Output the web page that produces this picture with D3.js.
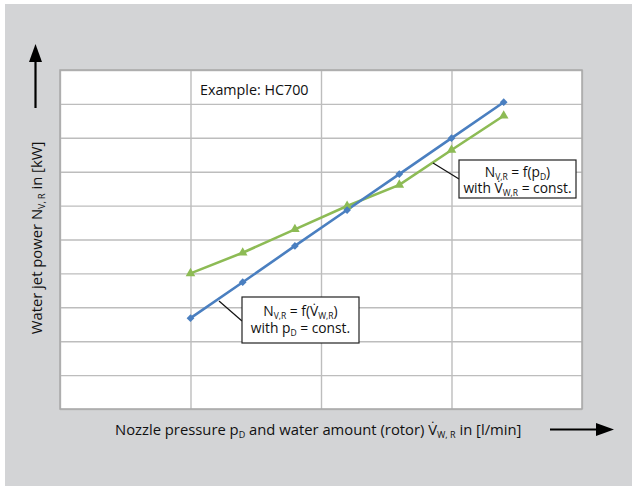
<!DOCTYPE html>
<html>
<head>
<meta charset="utf-8">
<script src="https://cdn.jsdelivr.net/npm/d3@7"></script>
<style>
  body { margin: 0; background: #fff; }
  svg text { font-family: "Open Sans", "Noto Sans", sans-serif; fill: #111; }
</style>
</head>
<body>
<script>
// x positions of the measuring points (in grid units, 5 units per grid column)
var flowSteps = [5, 7, 9, 11, 13, 15, 17];
// water jet power with p_D = const., varying water amount (blue)
var powerVsFlow = [2.68, 3.74, 4.81, 5.87, 6.93, 7.99, 9.05];
// water jet power with V_W,R = const., varying nozzle pressure (green)
var powerVsPressure = [4.0, 4.61, 5.30, 5.99, 6.61, 7.64, 8.65];

var xTicks = [0, 5, 10, 15, 20];
var yTicks = [0, 1, 2, 3, 4, 5, 6, 7, 8, 9, 10];

var svgWidth = 632, svgHeight = 486;

// plot area edges
var plot = { left: 60, top: 70, right: 582, bottom: 409 };

var svg = d3.select("body")
  .append("svg")
  .attr("width", svgWidth)
  .attr("height", svgHeight);

// grey panel
svg.append("rect")
  .attr("x", 5).attr("y", 4)
  .attr("width", svgWidth - 5).attr("height", svgHeight - 4)
  .attr("fill", "#d3d4d6");

var xScale = d3.scaleLinear().domain([0, 20]).range([plot.left, plot.right]);
var yScale = d3.scaleLinear().domain([0, 10]).range([plot.bottom, plot.top]);

svg.append("rect")
  .attr("x", plot.left).attr("y", plot.top)
  .attr("width", plot.right - plot.left).attr("height", plot.bottom - plot.top)
  .attr("fill", "#fff");

// grid lines (axes with no labels)
svg.append("g")
  .attr("transform", `translate(0, ${plot.bottom})`)
  .call(d3.axisBottom(xScale).tickValues(xTicks).tickSize(-(plot.bottom - plot.top)).tickFormat(""));
svg.append("g")
  .attr("transform", `translate(${plot.left}, 0)`)
  .call(d3.axisLeft(yScale).tickValues(yTicks).tickSize(-(plot.right - plot.left)).tickFormat(""));
svg.selectAll(".domain").remove();
svg.selectAll(".tick line").attr("stroke", "#bdbdbd").attr("stroke-width", 1.4);

// plot border
svg.append("rect")
  .attr("x", plot.left).attr("y", plot.top)
  .attr("width", plot.right - plot.left).attr("height", plot.bottom - plot.top)
  .attr("fill", "none").attr("stroke", "#a9a9a9").attr("stroke-width", 1.5);

svg.append("text")
  .attr("x", 200).attr("y", 95)
  .attr("font-size", 14.3)
  .text("Example: HC700");

// lines
var blue = "#4a7fc0", green = "#8dbb55";
var line = d3.line().x(d => xScale(d[0])).y(d => yScale(d[1]));

var blueData = flowSteps.map((x, i) => [x, powerVsFlow[i]]);
var greenData = flowSteps.map((x, i) => [x, powerVsPressure[i]]);

svg.append("path").datum(greenData)
  .attr("d", line).attr("fill", "none").attr("stroke", green).attr("stroke-width", 2.6);
svg.append("path").datum(blueData)
  .attr("d", line).attr("fill", "none").attr("stroke", blue).attr("stroke-width", 2.6);

svg.selectAll(".tri")
  .data(greenData)
  .enter()
  .append("path")
  .classed("tri", true)
  .attr("d", d3.symbol().type(d3.symbolTriangle).size(40))
  .attr("transform", d => `translate(${xScale(d[0])}, ${yScale(d[1])})`)
  .attr("fill", green);

svg.selectAll(".dia")
  .data(blueData)
  .enter()
  .append("path")
  .classed("dia", true)
  .attr("d", d3.symbol().type(d3.symbolSquare).size(30))
  .attr("transform", d => `translate(${xScale(d[0])}, ${yScale(d[1])}) rotate(45)`)
  .attr("fill", blue);

// parts: array of [text, isSubscript]
function addParts(t, parts, subSize) {
  parts.forEach(function(p) {
    var s = t.append("tspan").text(p[0]);
    if (p[1]) s.attr("font-size", subSize || 8.5).attr("baseline-shift", "-2.5");
  });
}

// annotation boxes
function annotation(box, leader, lines, baselines) {
  svg.append("line")
    .attr("x1", leader[0]).attr("y1", leader[1])
    .attr("x2", leader[2]).attr("y2", leader[3])
    .attr("stroke", "#111").attr("stroke-width", 1.2);
  svg.append("rect")
    .attr("x", box.x).attr("y", box.y)
    .attr("width", box.w).attr("height", box.h)
    .attr("fill", "#fff").attr("stroke", "#222").attr("stroke-width", 1.2);
  var cx = box.x + box.w / 2;
  lines.forEach(function(parts, k) {
    var t = svg.append("text")
      .attr("x", cx).attr("y", box.y + baselines[k])
      .attr("text-anchor", "middle")
      .attr("font-size", 13.8);
    addParts(t, parts, 8.5);
  });
}

annotation({ x: 242, y: 297, w: 117, h: 46 }, [219, 301, 242, 321],
  [[["N"], ["V,R", 1], [" = f(V\u0307"], ["W,R", 1], [")"]],
   [["with p"], ["D", 1], [" = const."]]],
  [19, 36]);

annotation({ x: 459, y: 160, w: 117, h: 38 }, [433, 163, 459, 179],
  [[["N"], ["V,R", 1], [" = f(p"], ["D", 1], [")"]],
   [["with V\u0307"], ["W,R", 1], [" = const."]]],
  [17, 33]);

// axis titles
var xTitle = svg.append("text")
  .attr("x", 115).attr("y", 435)
  .attr("font-size", 14.8);
addParts(xTitle, [["Nozzle pressure p"], ["D", 1], [" and water amount (rotor) V\u0307"], ["W, R", 1], [" in [l/min]"]], 9);

var yTitle = svg.append("text")
  .attr("transform", "translate(42, 238) rotate(-90)")
  .attr("text-anchor", "middle")
  .attr("font-size", 14.8);
addParts(yTitle, [["Water jet power N"], ["V, R", 1], [" in [kW]"]], 9);

// arrows
svg.append("line").attr("x1", 550).attr("y1", 429.5).attr("x2", 598).attr("y2", 429.5)
  .attr("stroke", "#000").attr("stroke-width", 2.2);
svg.append("path").attr("d", "M596,423 L614,429.5 L596,436 Z").attr("fill", "#000");

svg.append("line").attr("x1", 35.5).attr("y1", 108).attr("x2", 35.5).attr("y2", 60)
  .attr("stroke", "#000").attr("stroke-width", 2.2);
svg.append("path").attr("d", "M29,62 L35.5,44 L42,62 Z").attr("fill", "#000");
</script>
</body>
</html>
